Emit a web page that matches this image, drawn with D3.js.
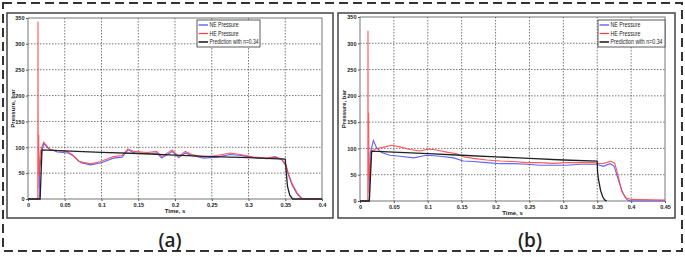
<!DOCTYPE html>
<html>
<head>
<meta charset="utf-8">
<script src="https://cdn.jsdelivr.net/npm/d3@7"></script>
<style>
  body { margin: 0; background: #fff; }
  svg { display: block; }
  .tick text { font-family: "Liberation Sans Narrow", "Liberation Sans", Arial, sans-serif; font-size: 5.5px; font-weight: bold; fill: #222; }
  .axis-label { font-family: "Liberation Sans Narrow", "Liberation Sans", Arial, sans-serif; font-size: 6px; font-weight: bold; fill: #222; }
  .legend text { font-family: "Liberation Sans", Arial, sans-serif; font-size: 6.5px; fill: #222; }
  .panel-tag { font-family: "Open Sans", "DejaVu Sans", sans-serif; font-size: 19px; font-weight: 600; fill: #222; }
</style>
</head>
<body>
<svg id="chart" width="685" height="257"></svg>
<script>
// series names and tick values
const seriesNames = ["NE Pressure", "HE Pressure", "Prediction with n=0.34"]
const yTicks = [0, 50, 100, 150, 200, 250, 300, 350]
const xTicksA = [0, 0.05, 0.1, 0.15, 0.2, 0.25, 0.3, 0.35, 0.4]
const xTicksB = [0, 0.05, 0.1, 0.15, 0.2, 0.25, 0.3, 0.35, 0.4, 0.45]

// panel (a), [time s, pressure bar]
const neA = [[0,0],[0.0152,0],[0.016,60],[0.019,95],[0.0215,107],[0.028,97],[0.04,91],[0.055,89],[0.062,83],
  [0.072,70],[0.085,66],[0.1,70],[0.116,79],[0.128,81],[0.136,95],[0.145,89],[0.162,88],[0.175,89],[0.182,79],
  [0.196,92],[0.205,80],[0.214,89],[0.223,84],[0.239,79],[0.257,81],[0.275,86],[0.289,84],[0.307,80],[0.325,78],
  [0.336,81],[0.345,77],[0.351,64],[0.354,48],[0.359,28],[0.366,10],[0.372,1],[0.38,0],[0.4,0]]
const heA = [[0,0],[0.0133,0],[0.0136,343],[0.0139,20],[0.0145,124],[0.015,45],[0.017,92],[0.0213,110],[0.03,95],
  [0.053,92],[0.06,86],[0.069,73],[0.085,68],[0.098,72],[0.116,82],[0.128,84],[0.136,97],[0.144,92],[0.162,90],
  [0.175,92],[0.182,82],[0.196,95],[0.205,82],[0.214,92],[0.223,86],[0.239,81],[0.257,84],[0.275,89],[0.289,86],
  [0.307,81],[0.325,79],[0.336,82],[0.345,77],[0.351,66],[0.354,50],[0.359,31],[0.366,12],[0.372,2],[0.379,0],[0.4,0]]
const predA = [[0,0],[0.0165,0],[0.019,95],[0.05,93],[0.1,90],[0.15,88],[0.2,85],[0.25,82],[0.3,80],[0.35,77],
  [0.3515,50],[0.353,25],[0.356,8],[0.36,0],[0.4,0]]

// panel (b)
const neB = [[0,0],[0.0135,0],[0.015,90],[0.0197,115],[0.0246,101],[0.032,92],[0.044,87],[0.059,85],[0.079,82],
  [0.098,87],[0.118,85],[0.138,82],[0.1525,76],[0.167,75],[0.187,73],[0.2066,71],[0.226,71],[0.246,70],[0.266,68],
  [0.285,68],[0.305,68],[0.325,70],[0.349,70],[0.359,66],[0.369,71],[0.375,66],[0.381,41],[0.3875,16],[0.3935,3],
  [0.398,0],[0.45,0]]
const heB = [[0,0],[0.0115,0],[0.0118,324],[0.0121,15],[0.0127,168],[0.0133,40],[0.0172,95],[0.0246,100],[0.034,102],
  [0.0467,106],[0.059,103],[0.074,98],[0.0885,95],[0.101,99],[0.113,97],[0.128,93],[0.1426,90],[0.1525,84],
  [0.167,81],[0.187,78],[0.2066,76],[0.226,75],[0.246,73],[0.266,73],[0.285,71.5],[0.305,73],[0.325,73],[0.344,73],
  [0.357,71],[0.364,73],[0.37,76],[0.376,71.5],[0.381,47],[0.386,19],[0.392,6],[0.4,3],[0.45,2]]
const predB = [[0,0],[0.0138,0],[0.0172,95],[0.05,93],[0.1,90],[0.15,87],[0.2,84],[0.25,81],[0.3,78],[0.35,76],
  [0.3505,55],[0.352,40],[0.355,20],[0.358,8],[0.361,2],[0.364,0]]

const colors = ["#4646ff", "#ff3c3c", "#222"]

let svg = d3.select("#chart")

// dashed outer border
svg.append("rect")
  .attr("x", 3).attr("y", 3).attr("width", 679).attr("height", 248)
  .attr("fill", "none").attr("stroke", "#333").attr("stroke-width", 2)
  .attr("stroke-dasharray", "9,5")

function drawPanel(opts) {
  let g = svg.append("g")

  // panel frame
  g.append("rect")
    .attr("x", opts.frame[0]).attr("y", opts.frame[1])
    .attr("width", opts.frame[2]).attr("height", opts.frame[3])
    .attr("fill", "none").attr("stroke", "#444").attr("stroke-width", 1.5)

  let x = d3.scaleLinear().domain([0, opts.xMax]).range([opts.left, opts.right])
  let y = d3.scaleLinear().domain([0, 350]).range([opts.bottom, opts.top])

  // grid
  g.append("g").selectAll("line").data(opts.xTicks.slice(1, -1)).join("line")
    .attr("x1", d => x(d)).attr("x2", d => x(d))
    .attr("y1", opts.top).attr("y2", opts.bottom)
    .attr("stroke", "#555").attr("stroke-width", 0.8).attr("stroke-dasharray", "1.5,1.5")
  g.append("g").selectAll("line").data(yTicks.slice(1, -1)).join("line")
    .attr("x1", opts.left).attr("x2", opts.right)
    .attr("y1", d => y(d)).attr("y2", d => y(d))
    .attr("stroke", "#555").attr("stroke-width", 0.8).attr("stroke-dasharray", "1.5,1.5")

  // axes
  g.append("g")
    .attr("transform", "translate(0," + opts.bottom + ")")
    .call(d3.axisBottom(x).tickValues(opts.xTicks).tickFormat(d3.format("~g")).tickSize(2).tickPadding(2))
    .call(a => a.select(".domain").remove())
  g.append("g")
    .attr("transform", "translate(" + opts.left + ",0)")
    .call(d3.axisLeft(y).tickValues(yTicks).tickSize(2).tickPadding(1.5))
    .call(a => a.select(".domain").remove())
  g.selectAll(".tick line").attr("stroke", "#555")

  // plot box
  g.append("rect")
    .attr("x", opts.left).attr("y", opts.top)
    .attr("width", opts.right - opts.left).attr("height", opts.bottom - opts.top)
    .attr("fill", "none").attr("stroke", "#777").attr("stroke-width", 1)

  // lines
  let line = d3.line().x(d => x(d[0])).y(d => y(d[1]))
  opts.series.forEach((s, i) => {
    g.append("path").datum(s)
      .attr("fill", "none").attr("stroke", colors[i])
      .attr("stroke-width", i == 2 ? 1.3 : 1.1)
      .attr("stroke-opacity", i == 2 ? 1 : 0.85)
      .attr("d", line)
  })

  // axis labels
  g.append("text").attr("class", "axis-label")
    .attr("x", (opts.left + opts.right) / 2).attr("y", opts.bottom + 14)
    .attr("text-anchor", "middle").text("Time, s")
  g.append("text").attr("class", "axis-label")
    .attr("transform", "translate(" + opts.yLabelX + "," + ((opts.top + opts.bottom) / 2) + ") rotate(-90)")
    .attr("text-anchor", "middle").text("Pressure, bar")

  // legend
  let lg = g.append("g").attr("class", "legend")
    .attr("transform", "translate(" + opts.legend[0] + "," + opts.legend[1] + ")")
  lg.append("rect").attr("width", opts.legend[2]).attr("height", 27)
    .attr("fill", "#fff").attr("stroke", "#333").attr("stroke-width", 0.8)
  seriesNames.forEach((name, i) => {
    lg.append("line").attr("x1", 1.5).attr("x2", 11)
      .attr("y1", 5 + i * 8.5).attr("y2", 5 + i * 8.5)
      .attr("stroke", colors[i]).attr("stroke-width", i == 2 ? 1.6 : 1.2)
    lg.append("text").attr("x", 12.5).attr("y", 7.3 + i * 8.5)
      .attr("textLength", opts.legendText[i]).attr("lengthAdjust", "spacingAndGlyphs")
      .text(name)
  })

  // panel tag
  g.append("text").attr("class", "panel-tag")
    .attr("x", opts.tagX).attr("y", 247).attr("text-anchor", "middle").text(opts.tag)
}

drawPanel({
  frame: [7, 13, 326, 205], left: 28, right: 322, top: 18, bottom: 199,
  xMax: 0.4, xTicks: xTicksA, series: [neA, heA, predA],
  yLabelX: 15, legend: [197, 20, 63], legendText: [29, 29, 49], tag: "(a)", tagX: 170
})

drawPanel({
  frame: [338, 13, 337, 205], left: 360, right: 665, top: 17, bottom: 201,
  xMax: 0.45, xTicks: xTicksB, series: [neB, heB, predB],
  yLabelX: 346, legend: [598, 20, 67], legendText: [30, 30, 52], tag: "(b)", tagX: 530
})
</script>
</body>
</html>
